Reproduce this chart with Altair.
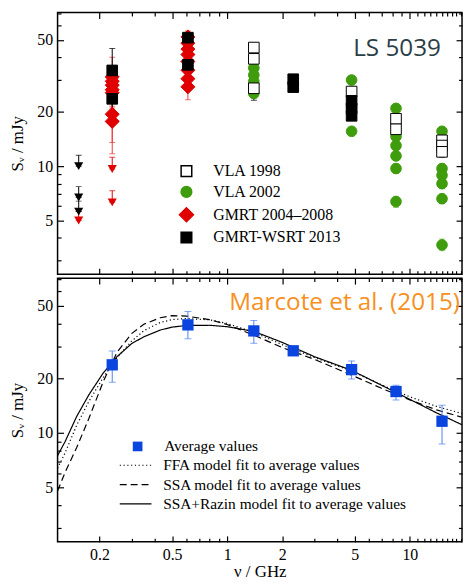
import altair as alt
import pandas as pd

SERIF = "Liberation Serif"
SANS = "Open Sans"
GREEN = "#3f9c0c"
GREEN_ERR = "#7cc655"
RED = "#e00000"
RED_ERR = "#ee3a3a"
BLUE = "#0b45e0"
BLUE_ERR = "#4f82f2"

# ---------------- axis ranges / ticks ----------------
x_domain = [0.118, 19.3]
y_domain = [2.52, 71.0]
x_major = [0.2, 0.5, 1, 2, 5, 10]
x_minor = [0.3, 0.4, 0.6, 0.7, 0.8, 0.9, 3, 4, 6, 7, 8, 9,
           11, 12, 13, 14, 15, 16, 17, 18, 19]
y_major = [5, 10, 20, 50]
y_minor = [3, 4, 6, 7, 8, 9, 30, 40, 60, 70]

# ---------------- top panel data ----------------
series_names = ["VLA 1998", "VLA 2002", "GMRT 2004–2008", "GMRT-WSRT 2013"]

nu_v98 = [1.4, 1.4, 1.4, 4.8, 8.4, 8.4, 15, 15, 15]
s_v98 = [45.4, 39.3, 27.0, 25.9, 18.3, 16.0, 13.9, 13.0, 12.0]
lo_v98 = [43.0, 37.0, 23.2, 24.5, 17.3, 15.1, 13.1, 12.2, 11.2]
hi_v98 = [48.0, 41.5, 28.5, 27.3, 19.3, 16.9, 14.7, 13.8, 12.8]

nu_v02 = [1.4, 1.4, 1.4, 1.4, 4.8, 4.8, 4.8, 8.4, 8.4, 8.4, 8.4, 8.4, 8.4,
          15, 15, 15, 15, 15, 15]
s_v02 = [35.0, 32.0, 29.5, 25.3, 30.0, 21.0, 15.6, 20.9, 14.6, 13.0, 11.4, 9.7,
         6.36, 15.6, 9.7, 8.9, 8.0, 6.6, 3.66]
lo_v02 = [33.0, 30.2, 27.8, 23.8, 28.3, 19.8, 14.7, 19.7, 13.8, 12.3, 10.7, 9.1,
          5.9, 14.7, 9.1, 8.4, 7.5, 6.2, 3.40]
hi_v02 = [37.0, 33.8, 31.2, 26.8, 31.7, 22.2, 16.5, 22.1, 15.4, 13.7, 12.1, 10.3,
          6.8, 16.5, 10.3, 9.4, 8.5, 7.0, 3.95]

nu_gm = [0.235] * 7 + [0.61] * 8
s_gm = [31.2, 29.5, 28.1, 26.5, 25.5, 19.4, 17.7,
        52.0, 48.0, 44.5, 41.5, 38.0, 34.0, 30.5, 27.5]
lo_gm = [24.0, 23.5, 22.5, 21.5, 21.0, 13.5, 11.7,
         47.0, 43.0, 40.0, 37.0, 34.0, 30.0, 26.5, 23.3]
hi_gm = [40.1, 36.0, 34.0, 32.0, 31.0, 25.0, 23.5,
         56.0, 53.0, 49.0, 46.0, 42.0, 38.0, 34.5, 31.5]

nu_ws = [0.235, 0.235, 0.61, 0.61, 2.3, 2.3, 4.8, 4.8, 4.8]
s_ws = [33.9, 23.6, 51.5, 36.4, 30.3, 27.4, 23.0, 20.9, 19.0]
lo_ws = [27.0, 19.5, 49.0, 34.5, 29.5, 26.7, 22.2, 20.2, 18.4]
hi_ws = [44.8, 28.0, 54.0, 38.3, 31.1, 28.1, 23.8, 21.6, 19.6]

# upper limits
nu_ul = [0.154, 0.154, 0.154, 0.154, 0.235, 0.235]
s_ul = [5.0, 10.0, 6.7, 5.6, 9.65, 6.3]
cap_ul = [5.6, 11.5, 7.7, 6.4, 11.2, 7.3]
col_ul = [RED, "black", "black", "black", RED, RED]

# ---------------- bottom panel data ----------------
nu_avg = [0.235, 0.61, 1.4, 2.3, 4.8, 8.4, 15.0]
s_avg = [23.7, 39.3, 36.4, 28.3, 22.3, 16.9, 11.6]
lo_avg = [19.0, 33.0, 31.1, 27.4, 19.8, 15.2, 8.7]
hi_avg = [28.2, 46.5, 41.5, 29.2, 24.9, 18.3, 14.2]

nu_fit = [0.118, 0.13, 0.15, 0.175, 0.21, 0.25, 0.30, 0.35, 0.43, 0.50, 0.60,
          0.80, 1.0, 1.4, 2.0, 3.0, 4.8, 7.0, 10.0, 14.0, 19.3]
s_ffa = [6.4, 7.8, 11.0, 14.9, 20.2, 26.0, 32.0, 36.5, 40.5, 42.0, 42.6,
         41.9, 40.0, 35.8, 30.6, 26.0, 21.9, 18.4, 15.8, 14.0, 12.8]
s_ssa = [4.8, 6.1, 8.3, 12.0, 19.2, 27.8, 35.2, 39.6, 43.0, 44.2, 43.9,
         42.0, 39.5, 34.5, 29.5, 25.4, 20.8, 17.6, 15.2, 13.4, 12.2]
s_razin = [7.5, 9.0, 12.3, 16.2, 21.4, 26.3, 31.0, 33.8, 36.8, 38.2, 39.0,
           39.1, 38.4, 36.2, 31.5, 26.3, 22.1, 18.3, 15.3, 12.9, 11.1]
model_names = ["FFA model fit to average values",
               "SSA model fit to average values",
               "SSA+Razin model fit to average values"]

# annotation anchors (data coordinates)
ls_label = ["LS 5039"]
ls_nu, ls_s = [14.8], [40.5]
ref_label = ["Marcote et al. (2015)"]
ref_nu, ref_s = [18.8], [47.4]

# ---------------- build tables ----------------
def series_df(nu, s, lo, hi, name):
    return pd.DataFrame({"nu": nu, "S": s, "lo": lo, "hi": hi, "series": name})

df_v98 = series_df(nu_v98, s_v98, lo_v98, hi_v98, series_names[0])
df_v02 = series_df(nu_v02, s_v02, lo_v02, hi_v02, series_names[1])
df_gm = series_df(nu_gm, s_gm, lo_gm, hi_gm, series_names[2])
df_ws = series_df(nu_ws, s_ws, lo_ws, hi_ws, series_names[3])
df_pts = pd.concat([df_v02, df_gm, df_v98, df_ws], ignore_index=True)
df_ul = pd.DataFrame({"nu": nu_ul, "S": s_ul, "cap": cap_ul, "col": col_ul})

df_avg = pd.DataFrame({"nu": nu_avg, "S": s_avg, "lo": lo_avg, "hi": hi_avg,
                       "lab": "Average values"})
df_fit = pd.concat([
    pd.DataFrame({"nu": nu_fit, "S": s_ffa, "model": model_names[0]}),
    pd.DataFrame({"nu": nu_fit, "S": s_ssa, "model": model_names[1]}),
    pd.DataFrame({"nu": nu_fit, "S": s_razin, "model": model_names[2]}),
], ignore_index=True)

PLOT_W = 408


def xs():
    return alt.Scale(type="log", domain=x_domain, nice=False)


def ys():
    return alt.Scale(type="log", domain=y_domain, nice=False)


def X(field="nu"):
    return alt.X(f"{field}:Q", scale=xs(), axis=None)


def Y(field="S"):
    return alt.Y(f"{field}:Q", scale=ys(), axis=None)


def carriers(df, show_x):
    out = []
    base = alt.Chart(df).mark_point(opacity=0)
    common = dict(domain=False, grid=False, tickColor="black", tickWidth=1.2,
                  labelFont=SERIF, labelFontSize=16, labelColor="black",
                  titleFont=SERIF, titleFontSize=17, titleFontWeight="normal",
                  titleColor="black", format="~g")
    for orient in ["bottom", "top"]:
        for vals, size in [(x_major, 6), (x_minor, 3.5)]:
            lab = show_x and orient == "bottom" and vals is x_major
            if lab:
                ax = alt.Axis(orient=orient, values=vals, tickSize=size,
                              offset=-size, labels=True, labelPadding=5,
                              title="ν / GHz", titlePadding=1, **common)
            else:
                ax = alt.Axis(orient=orient, values=vals, tickSize=size,
                              offset=-size, labels=False, title=None, **common)
            out.append(base.encode(x=alt.X("nu:Q", scale=xs(), axis=ax), y=Y()))
    for orient in ["left", "right"]:
        for vals, size in [(y_major, 6), (y_minor, 3.5)]:
            lab = orient == "left" and vals is y_major
            if lab:
                ax = alt.Axis(orient=orient, values=vals, tickSize=size,
                              offset=-size, labels=True, labelPadding=5,
                              title="Sᵥ / mJy", titlePadding=10, **common)
            else:
                ax = alt.Axis(orient=orient, values=vals, tickSize=size,
                              offset=-size, labels=False, title=None, **common)
            out.append(base.encode(x=X(), y=alt.Y("S:Q", scale=ys(), axis=ax)))
    return out


# ---------------- top panel ----------------
err_top = []
for df, col in [(df_v02, GREEN_ERR), (df_gm, RED_ERR), (df_v98, "black"), (df_ws, "black")]:
    err_top.append(
        alt.Chart(df).mark_errorbar(color=col, ticks={"size": 6}, clip=True)
        .encode(x=X(), y=Y("lo"), y2="hi:Q")
    )

ul_bars = alt.Chart(df_ul).mark_errorbar(ticks={"size": 6}, clip=True).encode(
    x=X(), y=Y("S"), y2="cap:Q", color=alt.Color("col:N", scale=None))
ul_tri = alt.Chart(df_ul).mark_point(shape="triangle-down", filled=True, size=85,
                                     opacity=1).encode(
    x=X(), y=Y("S"), color=alt.Color("col:N", scale=None))

legend_top = alt.Legend(title=None, orient="none", legendX=122, legendY=152,
                        labelFont=SERIF, labelFontSize=16, labelColor="black",
                        labelOffset=19, rowPadding=3, padding=0, labelLimit=400)
pts = alt.Chart(df_pts).mark_point(filled=True, opacity=1, strokeWidth=1).encode(
    x=X(), y=Y(),
    shape=alt.Shape("series:N", scale=alt.Scale(domain=series_names,
                    range=["square", "circle", "diamond", "square"]), legend=legend_top),
    fill=alt.Fill("series:N", scale=alt.Scale(domain=series_names,
                  range=["white", GREEN, RED, "black"]), legend=legend_top),
    stroke=alt.Stroke("series:N", scale=alt.Scale(domain=series_names,
                      range=["black", GREEN, RED, "black"]), legend=legend_top),
    size=alt.Size("series:N", scale=alt.Scale(type="ordinal", domain=series_names,
                  range=[115, 115, 200, 115]), legend=legend_top),
)

ls_text = alt.Chart(pd.DataFrame({"nu": ls_nu, "S": ls_s, "t": ls_label})).mark_text(
    font=SANS, fontSize=24.5, color="#2c3e46", align="right", baseline="alphabetic"
).encode(x=X(), y=Y(), text="t:N")

top = alt.layer(*carriers(df_pts, False), *err_top, ul_bars, ul_tri, pts, ls_text).resolve_axis(
    x="independent", y="independent").properties(width=PLOT_W, height=264)

# ---------------- bottom panel ----------------
lines = alt.Chart(df_fit).mark_line(color="black", strokeWidth=1.2, clip=True).encode(
    x=X(), y=Y(),
    strokeDash=alt.StrokeDash("model:N", scale=alt.Scale(domain=model_names,
                              range=[[1.2, 2.6], [7, 4], [1, 0]]),
                              legend=alt.Legend(title=None, orient="none", legendX=71,
                                                legendY=181, labelFont=SERIF,
                                                labelFontSize=15.5, labelColor="black",
                                                symbolType="M-2.5,0H2.5", symbolSize=164,
                                                symbolStrokeColor="black",
                                                symbolStrokeWidth=1.2, labelOffset=20,
                                                rowPadding=2.5, padding=0, labelLimit=400)),
    detail="model:N",
)
err_avg = alt.Chart(df_avg).mark_errorbar(color=BLUE_ERR, ticks={"size": 7}, clip=True).encode(
    x=X(), y=Y("lo"), y2="hi:Q")
avg_pts = alt.Chart(df_avg).mark_point(filled=True, opacity=1, color=BLUE, size=130).encode(
    x=X(), y=Y(),
    shape=alt.Shape("lab:N", scale=alt.Scale(domain=["Average values"], range=["square"]),
                    legend=alt.Legend(title=None, orient="none", legendX=73, legendY=162,
                                      labelFont=SERIF, labelFontSize=15.5,
                                      labelColor="black", symbolFillColor=BLUE,
                                      symbolStrokeColor=BLUE, symbolSize=95,
                                      labelOffset=19, padding=0, labelLimit=400)),
)
ref_text = alt.Chart(pd.DataFrame({"nu": ref_nu, "S": ref_s, "t": ref_label})).mark_text(
    font=SANS, fontSize=24.5, color="#f7901e", align="right", baseline="alphabetic"
).encode(x=X(), y=Y(), text="t:N")

bottom = alt.layer(*carriers(df_avg, True), lines, err_avg, avg_pts, ref_text).resolve_axis(
    x="independent", y="independent").properties(width=PLOT_W, height=266)

chart = alt.vconcat(top, bottom, spacing=0).resolve_scale(
    shape="independent", fill="independent", stroke="independent",
    size="independent", strokeDash="independent", color="independent"
).resolve_legend(
    shape="independent", fill="independent", stroke="independent",
    size="independent", strokeDash="independent", color="independent"
).properties(padding=0).configure_view(stroke="black", strokeWidth=1.5)

chart.save("out.html", embed_options={"renderer": "svg", "actions": False})
